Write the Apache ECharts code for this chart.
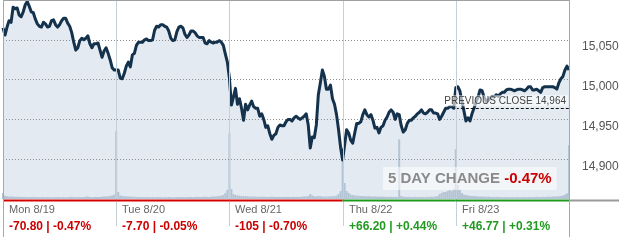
<!DOCTYPE html>
<html><head><meta charset="utf-8">
<script src="https://cdn.jsdelivr.net/npm/echarts@6/dist/echarts.min.js"></script>
<style>html,body{margin:0;padding:0;background:#fff}#c{width:634px;height:244px}</style>
</head><body><div id="c"></div>
<script>
const days = ['Mon 8/19','Tue 8/20','Wed 8/21','Thu 8/22','Fri 8/23'];
const dayChange = ['-70.80','-7.70','-105','+66.20','+46.77'];
const dayPct = ['-0.47%','-0.05%','-0.70%','+0.44%','+0.31%'];
const fiveDayLabel = '5 DAY CHANGE';
const fiveDayChange = '-0.47%';
const prevClose = 14964;
const prevCloseLabel = 'PREVIOUS CLOSE 14,964';
const yMin = 14850, yMax = 15100, yStep = 50;

const monPrice = [15065,15056,15066,15074,15072,15091,15089,15090,15081,15079,15085,15094,15098,15092,15085,15084,15076,15070,15067,15066,15072,15070,15066,15067,15074,15075,15069,15066,15069,15074,15077,15077,15071,15067,15059,15047,15037,15040,15049,15052,15050,15052,15055,15045,15040,15045,15045,15046,15037,15028,15036,15040,15033,15025,15015,15012];
const tuePrice = [15012,15012,15002,15001,15008,15017,15022,15016,15031,15033,15043,15047,15047,15047,15050,15051,15049,15049,15050,15062,15067,15066,15069,15069,15067,15066,15061,15052,15049,15050,15060,15066,15067,15065,15057,15053,15056,15061,15061,15059,15055,15053,15053,15053,15046,15045,15049,15047,15046,15047,15047,15049,15047,15043,15032,15022];
const wedPrice = [15002,14968,14978,14989,14969,14976,14964,14949,14969,14962,14968,14973,14966,14964,14964,14954,14957,14950,14940,14942,14932,14925,14930,14932,14940,14943,14942,14942,14947,14950,14950,14948,14952,14954,14952,14950,14952,14954,14957,14943,14914,14928,14927,14943,14981,14996,15012,15004,14988,14988,14993,14976,14969,14956,14937,14915];
const thuPrice = [14899,14918,14937,14933,14924,14920,14933,14945,14945,14947,14956,14962,14956,14953,14956,14949,14939,14940,14933,14940,14942,14949,14953,14959,14962,14959,14950,14957,14956,14942,14934,14937,14945,14949,14949,14952,14954,14957,14959,14962,14958,14957,14959,14962,14962,14958,14958,14957,14950,14954,14959,14964,14964,14966,14966,14964];
const friPrice = [14990,14991,14986,14973,14961,14948,14952,14948,14957,14964,14972,14978,14987,14986,14978,14973,14974,14977,14979,14978,14981,14979,14982,14984,14984,14987,14988,14988,14987,14986,14987,14988,14988,14987,14986,14988,14991,14991,14987,14987,14988,14986,14984,14990,14991,14991,14991,14991,14991,14990,14988,14996,15001,15004,15012,15017,15012];

const monVol = [3,1.6,1.4,1.2,1.3,1.2,1.1,1.2,1.0,1.1,1.0,1.1,0.9,1.0,1.0,1.1,0.9,1.0,0.9,1.0,1.0,0.9,0.9,1.0,0.8,0.9,0.9,1.0,0.9,0.9,1.0,0.8,0.9,1.0,1.1,1.0,0.9,0.9,1.0,0.9,1.0,1.2,1.3,1.0,0.9,1.0,1.1,1.0,1.0,1.2,1.3,1.2,1.4,1.5,1.8,2.2];
const tueVol = [34,3.5,1.8,1.5,1.4,1.3,1.2,1.3,1.1,1.2,1.0,1.1,1.0,1.0,0.9,1.0,1.0,0.9,1.0,0.9,0.9,1.0,0.9,0.8,0.9,0.9,1.0,0.9,0.8,0.9,0.9,1.0,0.9,1.0,0.9,0.9,1.0,1.0,0.9,1.0,1.1,1.0,1.0,1.1,1.2,1.1,1.0,1.2,1.3,1.2,1.4,1.5,1.7,2.0,3.0,4.5];
const wedVol = [33,5,2.5,2.0,1.8,1.6,1.5,1.4,1.5,1.3,1.3,1.2,1.3,1.2,1.1,1.2,1.1,1.2,1.1,1.0,1.1,1.2,1.1,1.0,1.1,1.0,1.0,1.1,1.0,1.1,1.0,1.0,1.1,1.0,1.1,1.0,1.2,1.3,1.2,1.5,2.5,1.8,1.4,1.3,1.5,1.4,1.3,1.2,1.3,1.2,1.4,1.3,1.5,1.7,2.5,4.0];
const thuVol = [19,8,4,3,2.2,2.0,1.8,1.7,1.6,1.5,1.5,1.4,1.3,1.4,1.3,1.2,1.3,1.2,1.2,1.1,1.2,1.1,1.1,1.0,1.1,1.0,1.1,1.0,30,1.5,1.2,1.1,1.0,1.1,1.0,1.0,1.1,1.0,1.0,1.1,1.0,1.0,1.1,1.0,1.2,1.1,1.3,1.5,2.5,3.0,3.5,3.5,4.0,4.5,4.0,5.0];
const friVol = [25,7,4.5,3.0,2.2,2.0,1.8,1.6,1.5,1.4,1.4,1.3,1.2,1.3,1.2,1.1,1.2,1.1,1.0,1.1,1.0,1.1,1.0,1.0,0.9,1.0,1.0,0.9,1.0,0.9,1.0,1.0,0.9,1.0,1.0,0.9,1.0,1.0,0.9,1.0,1.1,1.0,1.0,1.1,1.0,1.1,1.2,1.1,1.2,1.3,1.2,1.4,1.5,1.8,2.2,2.8,27];

(function () {
const PTS = monPrice.length;          // samples per session
const N = days.length * PTS;
const price = [].concat(monPrice, tuePrice, wedPrice, thuPrice, friPrice);
const volume = [].concat(monVol, tueVol, wedVol, thuVol, friVol);
const priceData = price.map((v, i) => [i, v]);
const volData = volume.map((v, i) => [i, v]);

const FONT = '"Liberation Sans", Arial, Helvetica, sans-serif';
const chart = echarts.init(document.getElementById('c'), null, {renderer: 'canvas'});

chart.setOption({
  animation: false,
  grid: {left: 3, right: 65, top: 0, height: 199},
  xAxis: {type: 'value', min: 0, max: N, interval: PTS,
    axisLine: {show: false}, axisTick: {show: false}, axisLabel: {show: false}, splitLine: {show: false}},
  yAxis: [{
    type: 'value', position: 'right', min: yMin, max: yMax, interval: yStep, z: 3,
    axisLine: {show: false}, axisTick: {show: false},
    splitLine: {show: true, showMinLine: false, showMaxLine: false, lineStyle: {color: '#8f8f8f', type: [1, 2], width: 1}},
    axisLabel: {showMinLabel: false, showMaxLabel: false, margin: 13, color: '#555', fontSize: 12, fontFamily: FONT,
      verticalAlign: 'top', padding: [1, 0, 0, 0], formatter: v => v.toLocaleString('en-US')}
  }, {type: 'value', min: 0, max: 100, show: false}],
  series: [
    {type: 'line', data: priceData, symbol: 'none', z: 1, silent: true,
      lineStyle: {width: 0, opacity: 0}, areaStyle: {color: '#e4eaf2', opacity: 1, origin: 'start'}},
    {type: 'bar', yAxisIndex: 1, data: volData, barWidth: 2, z: 2, silent: true,
      itemStyle: {color: '#b3c4d5'}},
    {type: 'line', data: priceData, symbol: 'none', z: 4, silent: true,
      lineStyle: {width: 3, color: '#15324c', join: 'round'},
      markLine: {silent: true, symbol: ['none', 'none'], label: {show: false},
        lineStyle: {type: [3, 2], color: '#111', width: 1},
        data: [[{coord: [(days.length - 1) * PTS, prevClose]}, {coord: [N, prevClose]}]]}}
  ]
});

const px = i => chart.convertToPixel({gridIndex: 0}, [i, yMin])[0];
const py = v => chart.convertToPixel({gridIndex: 0}, [0, v])[1];
const gLeft = px(0), gRight = px(N), gBase = py(yMin), gTop = py(yMax);
const g = [];
for (let d = 1; d < days.length; d++) {
  const x = Math.round(px(d * PTS)) + 0.5;
  g.push({type: 'line', shape: {x1: x, y1: gTop, x2: x, y2: gBase + 27}, style: {stroke: '#c6cfd8', lineWidth: 1}, z: 5});
}
for (let d = 0; d < days.length; d++) {
  const neg = dayChange[d].charAt(0) === '-';
  g.push({type: 'line', shape: {x1: px(d * PTS), y1: gBase + 1.5, x2: px((d + 1) * PTS), y2: gBase + 1.5},
    style: {stroke: neg ? '#d40000' : '#1c9a1c', lineWidth: 2}, z: 7});
  const xl = Math.round(px(d * PTS)) + 6;
  g.push({type: 'text', x: xl, y: gBase + 11, z: 8, style: {text: days[d], font: '11px ' + FONT, fill: '#666', verticalAlign: 'middle'}});
  g.push({type: 'text', x: xl, y: gBase + 28, z: 8, style: {text: dayChange[d] + ' | ' + dayPct[d], font: 'bold 12px ' + FONT,
    fill: neg ? '#cc0000' : '#229a22', verticalAlign: 'middle'}});
}
g.push({type: 'line', shape: {x1: gRight, y1: gBase + 1.5, x2: gRight + 50, y2: gBase + 1.5}, style: {stroke: '#9a9a9a', lineWidth: 2}, z: 7});
g.push({type: 'line', shape: {x1: gLeft, y1: 0.5, x2: gRight, y2: 0.5}, style: {stroke: '#a0a0a0', lineWidth: 1}, z: 7});
g.push({type: 'line', shape: {x1: Math.round(gLeft) + 0.5, y1: 0, x2: Math.round(gLeft) + 0.5, y2: gBase + 38}, style: {stroke: '#a8a8a8', lineWidth: 1}, z: 7});
g.push({type: 'line', shape: {x1: Math.round(gRight) + 0.5, y1: 0, x2: Math.round(gRight) + 0.5, y2: gBase + 38}, style: {stroke: '#a8a8a8', lineWidth: 1}, z: 7});
g.push({type: 'text', x: gRight - 1, y: py(prevClose) - 2, z: 6, style: {text: prevCloseLabel, font: '10px ' + FONT, fill: '#444',
  align: 'right', verticalAlign: 'bottom', backgroundColor: 'rgba(255,255,255,0.6)', padding: [1, 2, 0, 2]}});
g.push({type: 'text', x: 383, y: 167, z: 6, style: {
  text: '{a|' + fiveDayLabel + '} {b|' + fiveDayChange + '}',
  backgroundColor: 'rgba(255,255,255,0.55)', padding: [4, 5, 4, 5],
  rich: {a: {font: 'bold 15px ' + FONT, fill: '#8a8a8a', lineHeight: 15},
         b: {font: 'bold 15px ' + FONT, fill: fiveDayChange.charAt(0) === '-' ? '#cc0000' : '#229a22', lineHeight: 15}},
  font: 'bold 15px ' + FONT}});
chart.setOption({graphic: g});
})();
</script></body></html>
